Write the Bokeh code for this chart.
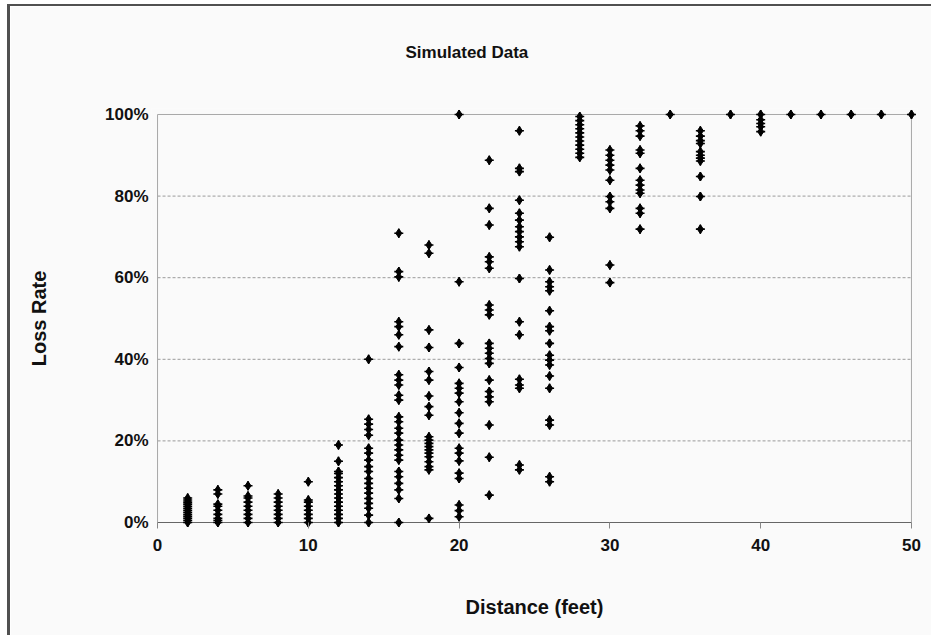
from bokeh.plotting import figure
from bokeh.models import Range1d, FixedTicker, NumeralTickFormatter, ColumnDataSource
from bokeh.embed import file_html
from bokeh.resources import INLINE

# ---- data (loss rate in %, by distance in feet) ----
d2 = [6, 5.5, 5, 4.5, 4, 3.5, 3, 2.5, 2, 1.5, 1, 0.5, 0]
d4 = [8, 7, 4.5, 4, 3, 2, 1, 0.5, 0]
d6 = [9, 6.5, 6, 5, 4, 3, 2, 1, 0]
d8 = [7, 6, 5, 4, 3, 2, 1, 0]
d10 = [10, 5.5, 5, 4, 3, 2, 1, 0]
d12 = [19, 15, 12.5, 12, 11, 10, 9, 8, 7, 6, 5, 4, 3, 2, 1, 0]
d14 = [40, 25.3, 24.1, 22.8, 21.4, 18.2, 17, 15.3, 13.7, 12.5, 10.8, 9.6, 8.4, 7.2, 5.9, 4.7, 3.5, 1.8, 0]
d16 = [70.9, 61.5, 60.2, 49.2, 48, 46, 43.1, 36.2, 34.9, 33.7, 31.2, 30, 25.9, 24.7, 23.1, 21.9,
       20.2, 19, 17.8, 16.5, 15.3, 12.5, 11.2, 9.6, 8, 5.9, 0]
d18 = [68, 66, 47.2, 42.9, 37, 34.9, 31, 28.4, 26.3, 21, 20.2, 19.4, 18.6, 17.8, 17, 16.1, 14.9, 13.7, 12.9, 1]
d20 = [100, 59, 43.9, 38, 34.1, 32.9, 31.7, 29.6, 26.9, 24.3, 21.9, 18.2, 17, 15.1, 12.1, 10.8, 4.3, 2.9, 1.4]
d22 = [88.8, 77, 72.9, 65.1, 63.9, 62.3, 53.3, 52.1, 50.9, 43.9, 42.7, 41.5, 40.2, 39, 34.9, 32.1,
       30.8, 29.6, 23.9, 16, 6.7]
d24 = [96, 86.8, 86, 79, 75.8, 74.1, 72.5, 71.3, 70, 68.8, 67.6, 59.8, 49.2, 46, 35.1, 33.7, 32.9, 14.1, 12.9]
d26 = [69.9, 61.9, 59, 57.8, 56.8, 51.9, 48, 47, 43.9, 41, 39.8, 38.6, 35.9, 32.9, 25.1, 23.9, 11.2, 10]
d28 = [99.5, 98.5, 97.5, 96.5, 95.5, 94.5, 93.5, 92.5, 91.5, 90.5, 89.5]
d30 = [91.3, 90, 88.8, 87.6, 86.4, 83.9, 79.9, 78.6, 77, 63.1, 58.8]
d32 = [97.2, 96, 94.7, 91.3, 90.5, 86.8, 83.9, 82.7, 81.5, 80.7, 77, 75.8, 71.9]
d34 = [100]
d36 = [96, 94.7, 93.6, 92.9, 90.9, 90, 89.3, 88.6, 84.8, 79.9, 71.9]
d38 = [100]
d40 = [100, 98.7, 97.8, 97, 95.8]
d42 = [100]
d44 = [100]
d46 = [100]
d48 = [100]
d50 = [100]

distances = [2, 4, 6, 8, 10, 12, 14, 16, 18, 20, 22, 24, 26, 28, 30, 32, 34, 36, 38, 40, 42, 44, 46, 48, 50]
loss_by_distance = [d2, d4, d6, d8, d10, d12, d14, d16, d18, d20, d22, d24, d26, d28, d30, d32,
                    d34, d36, d38, d40, d42, d44, d46, d48, d50]

x_ticks = [0, 10, 20, 30, 40, 50]
y_ticks = [0, 20, 40, 60, 80, 100]
title_text = "Simulated Data"
x_label = "Distance (feet)"
y_label = "Loss Rate"

xs, ys = [], []
for d, vals in zip(distances, loss_by_distance):
    for v in vals:
        xs.append(d)
        ys.append(v / 100.0)
src = ColumnDataSource(dict(x=xs, y=ys))

x_min, x_max = x_ticks[0], x_ticks[-1]
y_min, y_max = y_ticks[0] / 100.0, y_ticks[-1] / 100.0

FONT = "Liberation Sans"
BG = "#fafafa"

p = figure(width=925, height=632, output_backend="svg", toolbar_location=None,
           x_range=Range1d(x_min - 0.4, x_max + 0.4),
           y_range=Range1d(y_min - 0.0147, y_max + 0.0147),
           min_border_left=141, min_border_right=18, min_border_top=102, min_border_bottom=110,
           background_fill_color=BG, border_fill_color=BG, outline_line_color=None,
           margin=(4, 0, 0, 7))
p.styles = {"border-left": "3px solid #505050", "border-top": "2px solid #505050",
            "border-right": "0px none", "border-bottom": "0px none"}

p.xgrid.visible = False
p.ygrid.visible = False

# gridlines and plot-area box (inside the data extent)
gl = [t / 100.0 for t in y_ticks[1:-1]]
p.segment(x0=[x_min] * len(gl), x1=[x_max] * len(gl), y0=gl, y1=gl,
          line_color="#9a9a9a", line_width=1, line_dash="3 2")
p.segment(x0=[x_min, x_max, x_min], x1=[x_max, x_max, x_min],
          y0=[y_max, y_min, y_min], y1=[y_max, y_max, y_max],
          line_color="#a8a8a8", line_width=1)
p.segment(x0=[x_min], x1=[x_max], y0=[y_min], y1=[y_min], line_color="#666666", line_width=1.2)

# markers
p.scatter("x", "y", source=src, marker="diamond", size=9, fill_color="#000000", line_color="#000000")
p.scatter("x", "y", source=src, marker="cross", size=9, line_color="#000000", line_width=1.6)

# title: centred on the whole chart (left-aligned with offset), raised with a blank 2nd line
p.title.text = title_text + "\n "
p.title.align = "left"
p.title.offset = 254
p.title.vertical_align = "bottom"
p.title.standoff = 55
p.title.text_font = FONT
p.title.text_font_size = "17px"
p.title.text_font_style = "bold"
p.title.text_color = "#111111"

# axes
p.xaxis.ticker = FixedTicker(ticks=x_ticks)
p.yaxis.ticker = FixedTicker(ticks=[t / 100.0 for t in y_ticks])
p.yaxis.formatter = NumeralTickFormatter(format="0%")
for ax in (p.xaxis[0], p.yaxis[0]):
    ax.axis_line_color = None
    ax.minor_tick_line_color = None
    ax.major_label_text_font = FONT
    ax.major_label_text_font_size = "17px"
    ax.major_label_text_font_style = "bold"
    ax.major_label_text_color = "#111111"
    ax.axis_label_text_font = FONT
    ax.axis_label_text_font_size = "20px"
    ax.axis_label_text_font_style = "bold"
    ax.axis_label_text_color = "#111111"
p.xaxis.major_tick_in = 6
p.xaxis.major_tick_out = 0
p.xaxis.major_tick_line_color = "#888888"
p.xaxis.major_label_standoff = 10
p.xaxis.axis_label = x_label
p.xaxis.axis_label_standoff = 42
p.yaxis.major_tick_in = 0
p.yaxis.major_tick_out = 0
p.yaxis.major_label_standoff = 3
p.yaxis.axis_label = y_label
p.yaxis.axis_label_standoff = 52

open("out.html", "w").write(file_html(p, INLINE))
